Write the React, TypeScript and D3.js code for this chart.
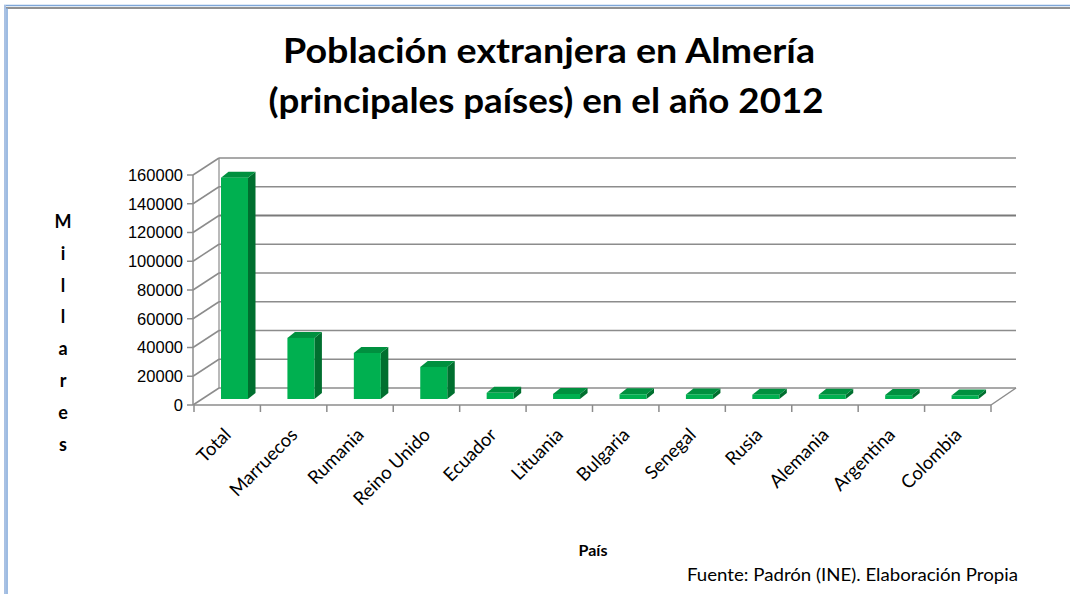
import React from 'react';
import * as d3 from 'd3';

const categories = ['Total', 'Marruecos', 'Rumania', 'Reino Unido', 'Ecuador', 'Lituania', 'Bulgaria', 'Senegal', 'Rusia', 'Alemania', 'Argentina', 'Colombia'];
const values = [154000, 42500, 32000, 22300, 4300, 3500, 3300, 3200, 3000, 2900, 2700, 2500];
const yTicks = [0, 20000, 40000, 60000, 80000, 100000, 120000, 140000, 160000];
const yTitle = 'Millares'.split('');

const W = 1070;
const H = 594;
const FONT = 'Lato, "Open Sans", sans-serif';

// 3d offsets: floor depth and bar depth
const DEPTH = { dx: 25, dy: -17 };
const BAR_DEPTH = { dx: 7.5, dy: -6 };

const COLORS = {
  front: '#00b050',
  top: '#00903f',
  side: '#006f2f',
  grid: '#8c8c8c',
  axis: '#8c8c8c',
  text: '#000000',
};

const App: React.FC = () => {
  const x = d3.scaleBand<string>().domain(categories).range([194, 991]);
  const yFront = d3.scaleLinear().domain([0, 160000]).range([405, 175]);
  const yBack = d3.scaleLinear().domain([0, 160000]).range([405 + DEPTH.dy, 175 + DEPTH.dy]);
  const yBar = d3.scaleLinear().domain([0, 160000]).range([399, 169]);

  const x0 = x.range()[0];
  const x1 = x.range()[1];
  const barW = 27;
  const barOff = 27;

  return (
    <svg width={W} height={H} style={{ position: 'absolute', left: 0, top: 0, display: 'block', background: '#fff' }}>
      {/* frame */}
      <line x1={4} y1={5.5} x2={W} y2={5.5} stroke="#7ea6d8" strokeWidth={1.5} />
      <line x1={6} y1={8} x2={W} y2={8} stroke="#6d6d6d" strokeWidth={1.5} />
      <line x1={5} y1={5} x2={5} y2={H} stroke="#a9c1e3" strokeWidth={2} />
      <line x1={7} y1={8} x2={7} y2={H} stroke="#7ea6d8" strokeWidth={1.5} />

      {/* title */}
      <text x={549} y={63} textAnchor="middle" fontFamily={FONT} fontWeight="bold" fontSize={35}
        textLength={532} lengthAdjust="spacingAndGlyphs" fill={COLORS.text}>
        Población extranjera en Almería
      </text>
      <text x={546} y={113} textAnchor="middle" fontFamily={FONT} fontWeight="bold" fontSize={35}
        textLength={555} lengthAdjust="spacingAndGlyphs" fill={COLORS.text}>
        (principales países) en el año 2012
      </text>

      {/* back wall gridlines */}
      {yTicks.map(t => (
        <line key={'g' + t} x1={x0 + DEPTH.dx} x2={x1 + DEPTH.dx} y1={yBack(t)} y2={yBack(t)}
          stroke={t === 120000 ? '#7a7a7a' : COLORS.grid} strokeWidth={t === 120000 ? 2 : 1.5} />
      ))}
      {/* left wall */}
      <line x1={x0 + DEPTH.dx} x2={x0 + DEPTH.dx} y1={yBack(0)} y2={yBack(160000)} stroke={COLORS.axis} strokeWidth={1.2} />
      {yTicks.map(t => (
        <line key={'d' + t} x1={x0 - 1} y1={yFront(t)} x2={x0 + DEPTH.dx} y2={yBack(t)}
          stroke={COLORS.axis} strokeWidth={1.5} />
      ))}
      {/* floor */}
      <line x1={x0} x2={x1} y1={yFront(0)} y2={yFront(0)} stroke={COLORS.axis} strokeWidth={1.5} />
      <line x1={x1} y1={yFront(0)} x2={x1 + DEPTH.dx} y2={yBack(0)} stroke={COLORS.axis} strokeWidth={1.5} />
      {/* front y axis */}
      <line x1={x0 - 1} x2={x0 - 1} y1={yFront(0)} y2={yFront(160000)} stroke={COLORS.axis} strokeWidth={1.5} />
      {yTicks.map(t => (
        <g key={'t' + t}>
          <line x1={x0 - 7} x2={x0 - 1} y1={yFront(t)} y2={yFront(t)} stroke={COLORS.axis} strokeWidth={1.5} />
          <text x={183} y={yFront(t)} dy="0.35em" textAnchor="end" fontFamily='"Liberation Sans", Arial, sans-serif'
            fontSize={16.5} fill={COLORS.text}>{t}</text>
        </g>
      ))}
      {/* category ticks */}
      {categories.concat(['__end']).map((c, i) => {
        const xx = i < categories.length ? (x(c) as number) : x1;
        return <line key={'ct' + i} x1={xx} x2={xx} y1={yFront(0)} y2={yFront(0) + 7} stroke={COLORS.axis} strokeWidth={1.5} />;
      })}

      {/* bars */}
      {categories.map((c, i) => {
        const bx = (x(c) as number) + barOff;
        const top = yBar(values[i]);
        const bottom = yBar(0);
        const { dx, dy } = BAR_DEPTH;
        return (
          <g key={'b' + c}>
            <polygon points={`${bx + barW},${top} ${bx + barW + dx},${top + dy} ${bx + barW + dx},${bottom + dy} ${bx + barW},${bottom}`}
              fill={COLORS.side} />
            <polygon points={`${bx},${top} ${bx + dx},${top + dy} ${bx + barW + dx},${top + dy} ${bx + barW},${top}`}
              fill={COLORS.top} />
            <rect x={bx} y={top} width={barW} height={bottom - top} fill={COLORS.front} />
          </g>
        );
      })}

      {/* category labels */}
      {categories.map(c => {
        const cx = (x(c) as number) + x.bandwidth() / 2;
        return (
          <text key={'l' + c} transform={`translate(${cx + 5},${436}) rotate(-45)`} textAnchor="end"
            fontFamily={FONT} fontSize={18.5} fill={COLORS.text}>{c}</text>
        );
      })}

      {/* y title */}
      {yTitle.map((ch, i) => (
        <text key={'y' + i} x={63} y={228 + i * 31.8} textAnchor="middle" fontFamily={FONT}
          fontWeight="bold" fontSize={18} fill={COLORS.text}>{ch}</text>
      ))}

      <text x={593} y={556} textAnchor="middle" fontFamily={FONT} fontWeight="bold" fontSize={16} fill={COLORS.text}>País</text>
      <text x={687} y={581} fontFamily={FONT} fontSize={17} textLength={331} lengthAdjust="spacingAndGlyphs"
        fill={COLORS.text}>Fuente: Padrón (INE). Elaboración Propia</text>
    </svg>
  );
};

export default App;
